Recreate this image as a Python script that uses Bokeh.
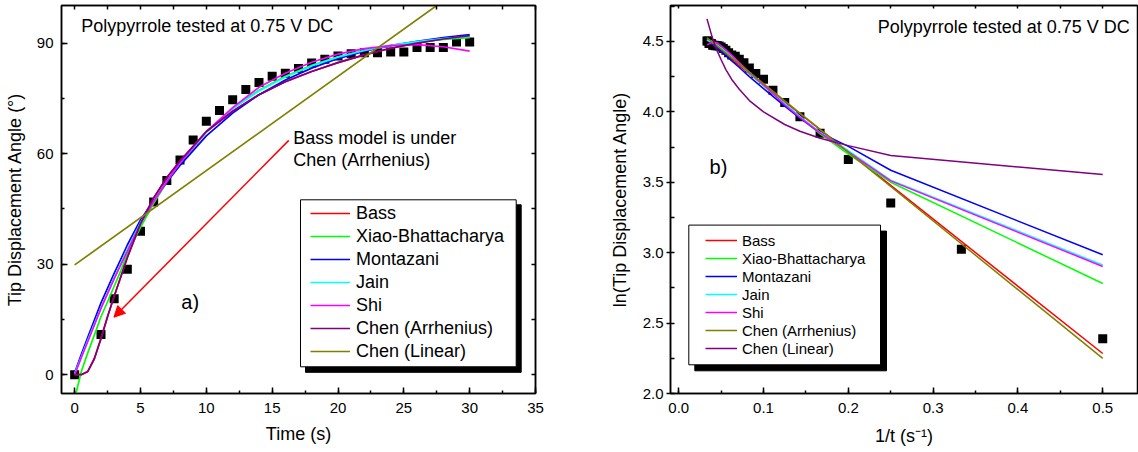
from bokeh.plotting import figure
from bokeh.layouts import row
from bokeh.models import (LinearAxis, SingleIntervalTicker, FixedTicker, NumeralTickFormatter, Legend,
                          LegendItem, Label, Arrow, NormalHead, BoxAnnotation, Range1d)
from bokeh.embed import file_html
from bokeh.resources import INLINE

FONT = "Liberation Sans"

# ---------------- panel a) data ----------------
time_s = [0, 2, 3, 4, 5, 6, 7, 8, 9, 10, 11, 12, 13, 14, 15, 16, 17, 18, 19, 20,
          21, 22, 23, 24, 25, 26, 27, 28, 29, 30]
tip_angle = [0, 10.9, 20.6, 28.6, 38.9, 46.9, 52.7, 58.3, 63.7, 68.8, 71.7, 74.6, 77.4, 79.3, 81.0,
             81.8, 83.1, 84.6, 85.6, 86.5, 87.1, 87.4, 87.4, 87.6, 87.6, 88.8, 88.8, 88.8, 90.3, 90.3]

fit_t = [0, 0.5, 1, 1.5, 2, 2.5, 3, 3.5, 4, 5, 6, 7, 8, 10, 12, 14, 16, 18, 20, 22, 24, 26, 28, 30]
bass_a = [0, 0, 0.9, 4.4, 9.8, 15.8, 21.3, 26.5, 31.8, 41.0, 48.0, 53.5, 58.0, 66.0, 71.5, 76.0,
          79.5, 82.3, 84.7, 86.8, 88.6, 90.0, 91.1, 92.0]
xiao_a = [-6.5, 0.8, 6.0, 10.8, 15.8, 19.8, 24.0, 28.2, 32.8, 40.0, 46.5, 52.3, 57.3, 65.8, 72.3,
          77.2, 81.0, 84.0, 86.3, 88.0, 89.3, 90.3, 91.0, 91.5]
montazani_a = [0.5, 5.5, 10.2, 14.8, 19.5, 23.5, 27.5, 31.3, 35.2, 42.0, 47.3, 52.3, 56.8, 64.8, 71.0,
               76.0, 80.0, 83.2, 85.8, 87.8, 89.3, 90.5, 91.5, 92.3]
jain_a = [0.3, 4.8, 9.4, 13.8, 18.2, 22.3, 26.4, 30.2, 34.0, 41.3, 47.2, 52.6, 57.5, 66.0, 72.2, 77.0,
          80.8, 83.8, 86.2, 88.0, 89.4, 90.4, 91.2, 91.8]
shi_a = [0, 4.6, 9.0, 13.5, 18.0, 22.0, 26.0, 29.8, 33.5, 41.0, 47.0, 52.5, 57.5, 66.0, 72.5, 78.0,
         81.8, 84.8, 87.0, 88.5, 89.3, 89.6, 89.0, 87.8]
chen_arr_a = [0, 0, 0.9, 4.4, 9.8, 15.8, 21.3, 26.5, 31.8, 41.0, 48.0, 53.5, 58.0, 66.0, 71.5, 76.0,
              79.5, 82.3, 84.7, 86.8, 88.6, 90.0, 91.1, 92.0]
chen_lin_t = [0, 30]
chen_lin_a = [29.8, 106.6]

# ---------------- panel b) data ----------------
inv_t = [0.5, 0.3333, 0.25, 0.2, 0.1667, 0.1429, 0.125, 0.1111, 0.1, 0.0909, 0.0833, 0.0769, 0.0714,
         0.0667, 0.0625, 0.0588, 0.0556, 0.0526, 0.05, 0.0476, 0.0455, 0.0435, 0.0417, 0.04, 0.0385,
         0.037, 0.0357, 0.0345, 0.0333]
ln_angle = [2.389, 3.025, 3.353, 3.661, 3.848, 3.965, 4.066, 4.154, 4.231, 4.272, 4.312, 4.349, 4.373,
            4.394, 4.404, 4.420, 4.438, 4.450, 4.460, 4.467, 4.470, 4.470, 4.473, 4.473, 4.486,
            4.486, 4.486, 4.503, 4.503]

line_x = [0.0333, 0.1, 0.2, 0.25, 0.5]
bass_b = [4.51, 4.19, 3.717, 3.478, 2.284]
chen_arr_b = [4.525, 4.20, 3.712, 3.47, 2.249]

fit_x = [0.0333, 0.0385, 0.0417, 0.0455, 0.05, 0.0556, 0.0625, 0.0714, 0.0833, 0.1, 0.125, 0.1429,
         0.1667, 0.2, 0.25, 0.5]
montazani_b = [4.515, 4.49, 4.472, 4.452, 4.428, 4.399, 4.362, 4.315, 4.25, 4.165, 4.04, 3.955,
               3.852, 3.755, 3.585, 2.985]
jain_b = [4.51, 4.495, 4.485, 4.47, 4.452, 4.425, 4.39, 4.342, 4.275, 4.185, 4.06, 3.968, 3.855,
          3.725, 3.515, 2.912]
shi_b = [4.475, 4.49, 4.493, 4.49, 4.468, 4.44, 4.403, 4.35, 4.28, 4.19, 4.05, 3.96, 3.85, 3.716,
         3.51, 2.902]
xiao_b = [4.515, 4.503, 4.492, 4.475, 4.455, 4.43, 4.395, 4.345, 4.277, 4.186, 4.05, 3.96, 3.843,
          3.70, 3.50, 2.781]
chen_lin_b = [4.66, 4.55, 4.49, 4.43, 4.37, 4.30, 4.23, 4.16, 4.08, 4.0, 3.91, 3.862, 3.812, 3.76,
              3.69, 3.555]

# tick positions for the unlabelled top / right frame edges
top_ticks_a = [0, 2.5, 5, 7.5, 10, 12.5, 15, 17.5, 20, 22.5, 25, 27.5, 30, 32.5, 35]
right_ticks_a = [0, 15, 30, 45, 60, 75, 90]
top_ticks_b = [0.0, 0.05, 0.1, 0.15, 0.2, 0.25, 0.3, 0.35, 0.4, 0.45, 0.5]

RED, GREEN, BLUE, CYAN, MAGENTA = "#FF0000", "#00FF00", "#0000FF", "#00FFFF", "#FF00FF"
PURPLE, OLIVE = "#800080", "#808000"


def style_axis(ax, tin, tout, min_in, min_out):
    ax.axis_line_color = "black"
    ax.axis_line_width = 1.5
    ax.major_tick_line_color = "black"
    ax.major_tick_line_width = 1.5
    ax.minor_tick_line_color = "black"
    ax.minor_tick_line_width = 1.5
    ax.major_tick_in = tin
    ax.major_tick_out = tout
    ax.minor_tick_in = min_in
    ax.minor_tick_out = min_out
    ax.major_label_text_font = FONT
    ax.major_label_text_color = "black"
    ax.major_label_text_font_size = "15px"
    ax.axis_label_text_font = FONT
    ax.axis_label_text_font_style = "normal"
    ax.axis_label_text_font_size = "18px"
    ax.axis_label_text_color = "black"


def edge_axis(ticks, length):
    ax = LinearAxis(ticker=FixedTicker(ticks=[], minor_ticks=ticks))
    ax.axis_line_color = "black"
    ax.axis_line_width = 1.5
    ax.minor_tick_line_color = "black"
    ax.minor_tick_line_width = 1.5
    ax.minor_tick_in = length
    ax.minor_tick_out = 0
    ax.major_label_standoff = 0
    return ax


def base_fig(width, xr, yr, bl, br):
    p = figure(width=width, height=452, x_range=Range1d(*xr), y_range=Range1d(*yr),
               output_backend="svg", toolbar_location=None,
               min_border_left=bl, min_border_right=br, min_border_top=5, min_border_bottom=59)
    p.grid.visible = False
    p.outline_line_color = "black"
    p.outline_line_width = 1.5
    p.background_fill_color = "white"
    p.border_fill_color = "white"
    return p


# ================= panel a =================
p1 = base_fig(560, (-1, 35), (-5.1, 100.2), 61, 25)
p1.xaxis.ticker = SingleIntervalTicker(interval=5, num_minor_ticks=2)
p1.yaxis.ticker = SingleIntervalTicker(interval=30, num_minor_ticks=2)
style_axis(p1.xaxis[0], 6, 0, 3, 0)
style_axis(p1.yaxis[0], 6, 0, 3, 0)
p1.xaxis.axis_label = "Time (s)"
p1.yaxis.axis_label = "Tip Displacement Angle (°)"
p1.xaxis.major_label_standoff = 9
p1.xaxis.axis_label_standoff = 8
p1.yaxis.major_label_standoff = 8
p1.yaxis.axis_label_standoff = 9
p1.add_layout(edge_axis(top_ticks_a, 4), "above")
p1.add_layout(edge_axis(right_ticks_a, 4), "right")

p1.scatter(time_s, tip_angle, marker="square", size=9, fill_color="black", line_color=None)
lw = 1.7
r_bass = p1.line(fit_t, bass_a, line_color=RED, line_width=lw)
r_xiao = p1.line(fit_t, xiao_a, line_color=GREEN, line_width=lw)
r_mont = p1.line(fit_t, montazani_a, line_color=BLUE, line_width=lw)
r_jain = p1.line(fit_t, jain_a, line_color=CYAN, line_width=lw)
r_shi = p1.line(fit_t, shi_a, line_color=MAGENTA, line_width=lw)
r_carr = p1.line(fit_t, chen_arr_a, line_color=PURPLE, line_width=lw)
r_clin = p1.line(chen_lin_t, chen_lin_a, line_color=OLIVE, line_width=lw)

p1.add_layout(BoxAnnotation(left=244, right=459.7, top=188.7, bottom=21.2,
                            left_units="screen", right_units="screen", top_units="screen", bottom_units="screen",
                            fill_color="black", fill_alpha=1, line_color="black", line_alpha=1))
p1.add_layout(BoxAnnotation(left=239, right=454.7, top=193.7, bottom=26.7,
                            left_units="screen", right_units="screen", top_units="screen", bottom_units="screen",
                            fill_color="white", fill_alpha=1, line_color="black", line_alpha=1, line_width=1))
leg1 = Legend(items=[LegendItem(label="Bass", renderers=[r_bass]),
                     LegendItem(label="Xiao-Bhattacharya", renderers=[r_xiao]),
                     LegendItem(label="Montazani", renderers=[r_mont]),
                     LegendItem(label="Jain", renderers=[r_jain]),
                     LegendItem(label="Shi", renderers=[r_shi]),
                     LegendItem(label="Chen (Arrhenius)", renderers=[r_carr]),
                     LegendItem(label="Chen (Linear)", renderers=[r_clin])],
              location=(249, 31), border_line_color=None, background_fill_alpha=0,
              padding=0, spacing=1, margin=0, glyph_width=40, glyph_height=22, label_height=22,
              label_standoff=6, label_text_font=FONT, label_text_font_size="18px",
              label_text_color="black")
p1.add_layout(leg1)

p1.add_layout(Label(x=0.5, y=94.6, text="Polypyrrole tested at 0.75 V DC", text_font=FONT,
                    text_font_size="18px", text_baseline="middle", text_align="left", text_color="black"))
p1.add_layout(Label(x=16.6, y=64.2, text="Bass model is under", text_font=FONT,
                    text_font_size="18px", text_baseline="middle", text_align="left", text_color="black"))
p1.add_layout(Label(x=16.6, y=58.2, text="Chen (Arrhenius)", text_font=FONT,
                    text_font_size="18px", text_baseline="middle", text_align="left", text_color="black"))
p1.add_layout(Label(x=8.1, y=19.8, text="a)", text_font=FONT,
                    text_font_size="20px", text_baseline="middle", text_align="left", text_color="black"))
p1.add_layout(Arrow(end=NormalHead(size=11, fill_color=RED, line_color=RED, line_width=1),
                    x_start=16.26, y_start=63.6, x_end=2.98, y_end=15.6,
                    line_color=RED, line_width=1.5))

# ================= panel b =================
p2 = base_fig(578, (-0.0097, 0.541), (2.0, 4.755), 110, 1)
p2.xaxis.ticker = SingleIntervalTicker(interval=0.1, num_minor_ticks=2)
p2.yaxis.ticker = SingleIntervalTicker(interval=0.5, num_minor_ticks=2)
style_axis(p2.xaxis[0], 6, 0, 3, 0)
style_axis(p2.yaxis[0], 0, 4, 4, 0)
p2.xaxis.formatter = NumeralTickFormatter(format="0.0")
p2.yaxis.formatter = NumeralTickFormatter(format="0.0")
p2.xaxis.axis_label = "1/t (s⁻¹)"
p2.yaxis.axis_label = "ln(Tip Displacement Angle)"
p2.xaxis.major_label_standoff = 9
p2.xaxis.axis_label_standoff = 10
p2.yaxis.major_label_standoff = 3
p2.yaxis.axis_label_standoff = 10
p2.add_layout(edge_axis(top_ticks_b, 3), "above")

p2.scatter(inv_t, ln_angle, marker="square", size=9, fill_color="black", line_color=None)
lw2 = 1.5
q_bass = p2.line(line_x, bass_b, line_color=RED, line_width=lw2)
q_xiao = p2.line(fit_x, xiao_b, line_color=GREEN, line_width=lw2)
q_mont = p2.line(fit_x, montazani_b, line_color=BLUE, line_width=lw2)
q_jain = p2.line(fit_x, jain_b, line_color=CYAN, line_width=lw2)
q_shi = p2.line(fit_x, shi_b, line_color=MAGENTA, line_width=lw2)
q_carr = p2.line(line_x, chen_arr_b, line_color=OLIVE, line_width=lw2)
q_clin = p2.line(fit_x, chen_lin_b, line_color=PURPLE, line_width=lw2)

p2.add_layout(BoxAnnotation(left=24.3, right=216, top=162.4, bottom=22.7,
                            left_units="screen", right_units="screen", top_units="screen", bottom_units="screen",
                            fill_color="black", fill_alpha=1, line_color="black", line_alpha=1))
p2.add_layout(BoxAnnotation(left=18.3, right=210, top=168.4, bottom=28.7,
                            left_units="screen", right_units="screen", top_units="screen", bottom_units="screen",
                            fill_color="white", fill_alpha=1, line_color="black", line_alpha=1, line_width=1))
leg2 = Legend(items=[LegendItem(label="Bass", renderers=[q_bass]),
                     LegendItem(label="Xiao-Bhattacharya", renderers=[q_xiao]),
                     LegendItem(label="Montazani", renderers=[q_mont]),
                     LegendItem(label="Jain", renderers=[q_jain]),
                     LegendItem(label="Shi", renderers=[q_shi]),
                     LegendItem(label="Chen (Arrhenius)", renderers=[q_carr]),
                     LegendItem(label="Chen (Linear)", renderers=[q_clin])],
              location=(35, 36), border_line_color=None, background_fill_alpha=0,
              padding=0, spacing=0, margin=0, glyph_width=32, glyph_height=18, label_height=18,
              label_standoff=5, label_text_font=FONT, label_text_font_size="15px",
              label_text_color="black")
p2.add_layout(leg2)

p2.add_layout(Label(x=0.532, y=4.604, text="Polypyrrole tested at 0.75 V DC", text_font=FONT,
                    text_font_size="18px", text_baseline="middle", text_align="right", text_color="black"))
p2.add_layout(Label(x=0.0363, y=3.605, text="b)", text_font=FONT,
                    text_font_size="20px", text_baseline="middle", text_align="left", text_color="black"))

layout = row(p1, p2)
open("out.html", "w").write(file_html(layout, INLINE))
